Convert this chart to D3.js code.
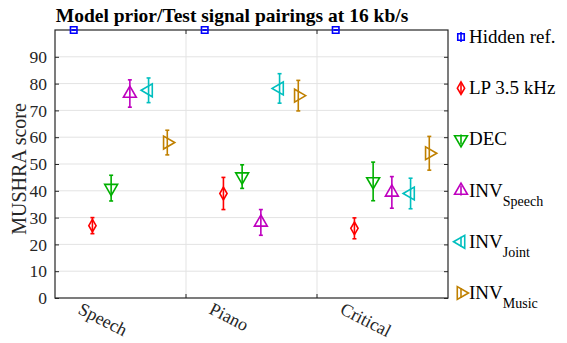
<!DOCTYPE html>
<html>
<head>
<meta charset="utf-8">
<script src="https://cdn.jsdelivr.net/npm/d3@7"></script>
<style>
  body { margin: 0; background: #fff; }
  svg text { font-family: "Liberation Serif", "Times New Roman", serif; }
</style>
</head>
<body>
<svg width="567" height="343"></svg>
<script>
// Data
const categories = ['Speech', 'Piano', 'Critical'];
const seriesNames = ['Hidden ref.', 'LP 3.5 kHz', 'DEC', 'INV Speech', 'INV Joint', 'INV Music'];
const hiddenRef = [100, 100, 100];
const lp35 = [27, 39, 26];
const dec = [41, 45.3, 43.5];
const invSpeech = [76.3, 28.2, 39.4];
const invJoint = [77.5, 78.2, 39];
const invMusic = [58, 75.5, 54];
const errHidden = [0, 0, 0];
const errLp = [3, 6, 3.9];
const errDec = [4.8, 4.4, 7.2];
const errSpeech = [5.1, 4.8, 5.9];
const errJoint = [4.6, 5.5, 5.7];
const errMusic = [4.6, 5.7, 6.3];
const yTicks = [0, 10, 20, 30, 40, 50, 60, 70, 80, 90];

const serif = '"Liberation Serif", "Times New Roman", serif';
const colors = ['#0000ff', '#ff0000', '#00b000', '#bf00bf', '#00bfbf', '#c08000'];
const values = [hiddenRef, lp35, dec, invSpeech, invJoint, invMusic];
const errs = [errHidden, errLp, errDec, errSpeech, errJoint, errMusic];

// Layout
const margin = { top: 30, right: 119, bottom: 45, left: 55 };
const width = 567, height = 343;
const innerWidth = width - margin.left - margin.right;
const innerHeight = height - margin.top - margin.bottom;

const svg = d3.select('svg').attr('font-family', serif);
const g = svg.append('g').attr('transform', `translate(${margin.left},${margin.top})`);

const xScale = d3.scaleBand().domain(categories).range([0, innerWidth]);
const xInner = d3.scalePoint().domain(seriesNames).range([0, xScale.bandwidth()]).padding(1);
const yScale = d3.scaleLinear().domain([0, 100]).range([innerHeight, 0]);

// Marker shapes
function markerPath(i) {
    const tri = d3.symbol().type(d3.symbolTriangle).size(72)();
    const shapes = [
        { p: d3.symbol().type(d3.symbolSquare).size(42)(), r: 0 },
        { p: d3.symbol().type(d3.symbolDiamond).size(46)(), r: 0 },
        { p: tri, r: 180 },
        { p: tri, r: 0 },
        { p: tri, r: -90 },
        { p: tri, r: 90 }
    ];
    return shapes[i];
}

// Grid
g.append('g').selectAll('line').data(yTicks.slice(1)).join('line')
    .attr('x1', 0).attr('x2', innerWidth)
    .attr('y1', d => yScale(d)).attr('y2', d => yScale(d))
    .attr('stroke', '#e3e3e3').attr('stroke-width', 1);
g.append('g').selectAll('line').data(categories.slice(1)).join('line')
    .attr('x1', d => xScale(d)).attr('x2', d => xScale(d))
    .attr('y1', 0).attr('y2', innerHeight)
    .attr('stroke', '#e3e3e3').attr('stroke-width', 1);

// Axes (ticks point inward)
const yAxis = d3.axisLeft(yScale).tickValues(yTicks).tickSize(-4).tickPadding(8);
const yAxisG = g.append('g').call(yAxis).attr('font-family', serif);
yAxisG.select('.domain').remove();
yAxisG.selectAll('text').attr('font-size', 17.5).attr('fill', '#262626');
yAxisG.selectAll('line').attr('stroke', '#262626');

const yAxisR = d3.axisRight(yScale).tickValues(yTicks).tickSize(-4).tickFormat('');
const yAxisRG = g.append('g').attr('transform', `translate(${innerWidth},0)`).call(yAxisR);
yAxisRG.select('.domain').remove();
yAxisRG.selectAll('line').attr('stroke', '#262626');

const xTickPos = categories.slice(1).map(c => xScale(c));
[0, innerHeight].forEach((yy, k) => {
    g.append('g').selectAll('line').data(xTickPos).join('line')
        .attr('x1', d => d).attr('x2', d => d)
        .attr('y1', yy).attr('y2', k === 0 ? yy + 4 : yy - 4)
        .attr('stroke', '#262626');
});

// Frame
g.append('rect').attr('width', innerWidth).attr('height', innerHeight)
    .attr('fill', 'none').attr('stroke', '#262626').attr('stroke-width', 1.2);

// X labels
g.append('g').selectAll('text').data(categories).join('text')
    .attr('transform', d => `translate(${xScale(d) + 22},${innerHeight + 15}) rotate(27)`)
    .attr('font-family', serif).attr('font-size', 18).attr('fill', '#262626')
    .text(d => d);

// Series
values.forEach((vals, i) => {
    const sg = g.append('g').attr('stroke', colors[i]).attr('fill', 'none').attr('stroke-width', 1.6);
    const mk = markerPath(i);
    categories.forEach((c, j) => {
        const cx = xScale(c) + xInner(seriesNames[i]);
        const v = vals[j], e = errs[i][j];
        sg.append('line').attr('x1', cx).attr('x2', cx)
            .attr('y1', yScale(v - e)).attr('y2', yScale(v + e));
        [v - e, v + e].forEach(t => {
            sg.append('line').attr('x1', cx - 2).attr('x2', cx + 2)
                .attr('y1', yScale(t)).attr('y2', yScale(t));
        });
        sg.append('path').attr('d', mk.p)
            .attr('transform', `translate(${cx},${yScale(v)}) rotate(${mk.r})`);
    });
});

// Legend
const legend = svg.append('g').attr('transform', 'translate(461,37)');
const legendLabels = [['Hidden ref.', ''], ['LP 3.5 kHz', ''], ['DEC', ''],
    ['INV', 'Speech'], ['INV', 'Joint'], ['INV', 'Music']];
legendLabels.forEach((lab, i) => {
    const ly = i * 51.2;
    const item = legend.append('g').attr('transform', `translate(0,${ly})`);
    const mk = markerPath(i);
    item.append('line').attr('x1', 0).attr('x2', 0).attr('y1', -5).attr('y2', 5)
        .attr('stroke', colors[i]).attr('stroke-width', 1.6);
    item.append('path').attr('d', mk.p).attr('transform', `rotate(${mk.r})`)
        .attr('fill', 'none').attr('stroke', colors[i]).attr('stroke-width', 1.6);
    const t = item.append('text').attr('x', 8).attr('y', 6)
        .attr('font-family', serif).attr('font-size', 19).attr('fill', '#000');
    t.append('tspan').text(lab[0]);
    if (lab[1]) t.append('tspan').attr('font-size', 14).attr('dy', 9).text(lab[1]);
});

// Title and y label
svg.append('text').attr('x', 232).attr('y', 22).attr('text-anchor', 'middle')
    .attr('font-family', serif).attr('font-size', 19.5).attr('font-weight', 'bold').attr('fill', '#000')
    .text('Model prior/Test signal pairings at 16 kb/s');
svg.append('text').attr('transform', 'translate(26,169) rotate(-90)')
    .attr('text-anchor', 'middle').attr('font-family', serif).attr('font-size', 20).attr('fill', '#262626')
    .text('MUSHRA score');
</script>
</body>
</html>
